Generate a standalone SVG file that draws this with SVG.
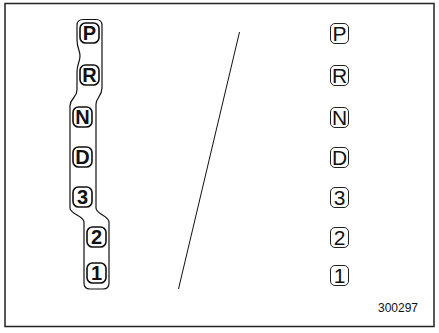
<svg xmlns="http://www.w3.org/2000/svg" width="439" height="333" viewBox="0 0 439 333">
<style>
.frame{fill:#fff;stroke:#222;stroke-width:1.5}
.bb{fill:none;stroke:#111;stroke-width:1.6}
.tb{font-family:"Liberation Sans",Arial,sans-serif;font-weight:bold;font-size:20px;fill:#111;text-anchor:middle}
.rb{fill:none;stroke:#222;stroke-width:1}
.tr{font-family:"Liberation Sans",Arial,sans-serif;font-size:21px;fill:#111;text-anchor:middle}
.ol{fill:none;stroke:#111;stroke-width:1.2}
</style>
<rect class="frame" x="5" y="3.5" width="429" height="323"/>
<g id="outline">
<path class="ol" d="M 83 19.5 H 96 Q 102 19.5 102 25.5 V 88 C 102 96 96 98 96 104 V 208 C 96 214 109 216 109 222 V 283 Q 109 289 103 289 H 90 Q 84 289 84 283 V 222 C 84 216 70 214 70 208 V 106 C 70 98 77 98 77 90 V 72 C 77 64 80 62 80 56 C 80 50 77 48 77 40 V 25.5 Q 77 19.5 83 19.5 Z"/>
</g>
<g id="L-P"><rect class="bb" x="80" y="23" width="19" height="20" rx="5.5"/><text class="tb" x="89.5" y="40">P</text></g>
<g id="L-R"><rect class="bb" x="80" y="65" width="19" height="20" rx="5.5"/><text class="tb" x="89.5" y="82">R</text></g>
<g id="L-N"><rect class="bb" x="73" y="107" width="19" height="20" rx="5.5"/><text class="tb" x="82.5" y="124">N</text></g>
<g id="L-D"><rect class="bb" x="73" y="147" width="19" height="20" rx="5.5"/><text class="tb" x="82.5" y="164">D</text></g>
<g id="L-3"><rect class="bb" x="73" y="187" width="19" height="20" rx="5.5"/><text class="tb" x="82.5" y="204">3</text></g>
<g id="L-2"><rect class="bb" x="87" y="227" width="19" height="20" rx="5.5"/><text class="tb" x="96.5" y="244">2</text></g>
<g id="L-1"><rect class="bb" x="87" y="263" width="19" height="20" rx="5.5"/><text class="tb" x="96.5" y="280">1</text></g>
<g id="connectors">
<line x1="239.5" y1="32" x2="178.5" y2="289" stroke="#111" stroke-width="1"/>
</g>
<g id="R-P"><rect class="rb" x="330.5" y="23.5" width="18" height="20" rx="4.5"/><text class="tr" x="339.5" y="41">P</text></g>
<g id="R-R"><rect class="rb" x="330.5" y="65.5" width="18" height="20" rx="4.5"/><text class="tr" x="339.5" y="83">R</text></g>
<g id="R-N"><rect class="rb" x="330.5" y="107.5" width="18" height="20" rx="4.5"/><text class="tr" x="339.5" y="125">N</text></g>
<g id="R-D"><rect class="rb" x="330.5" y="147.5" width="18" height="20" rx="4.5"/><text class="tr" x="339.5" y="165">D</text></g>
<g id="R-3"><rect class="rb" x="330.5" y="187.5" width="18" height="20" rx="4.5"/><text class="tr" x="339.5" y="205">3</text></g>
<g id="R-2"><rect class="rb" x="330.5" y="227.5" width="18" height="20" rx="4.5"/><text class="tr" x="339.5" y="245">2</text></g>
<g id="R-1"><rect class="rb" x="330.5" y="265.5" width="18" height="20" rx="4.5"/><text class="tr" x="339.5" y="283">1</text></g>
<text x="418" y="312" font-family="'Liberation Sans',Arial,sans-serif" font-size="12" fill="#111" text-anchor="end">300297</text>
</svg>
